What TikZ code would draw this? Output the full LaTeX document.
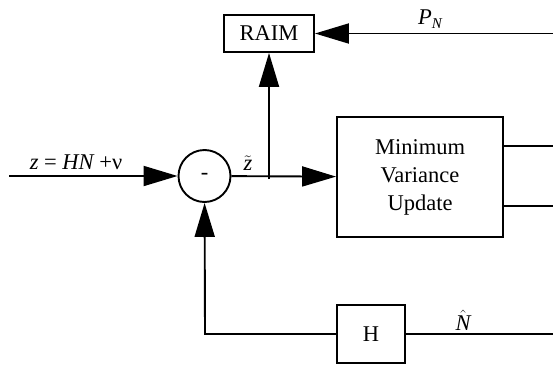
\documentclass[tikz,border=0pt]{standalone}
\usepackage{fontspec}
\setmainfont{Liberation Serif}
\usetikzlibrary{arrows.meta}
\begin{document}
\begin{tikzpicture}[x=1pt,y=-1pt,
  every node/.style={font=\fontsize{22.5}{28}\selectfont},
  blk/.style={draw,line width=1.9pt,rectangle,inner sep=0pt,align=center},
  sumnode/.style={draw,line width=1.9pt,circle,inner sep=0pt,minimum size=52pt},
  lbl/.style={inner sep=0pt},
  conn/.style={line width=1.9pt},
  arr/.style={conn,-{Triangle[length=34pt,width=20pt]}}]
\useasboundingbox (0,0) rectangle (553,364);
\node[blk,minimum width=90pt,minimum height=37pt] (raim) at (269,33.5) {RAIM};
\node[sumnode] (sum) at (204.5,176) {-};
\node[blk,minimum width=166pt,minimum height=120pt] (mvu) at (420,177) {Minimum\\Variance\\Update};
\node[blk,minimum width=68pt,minimum height=58pt] (hb) at (371,334) {H};
\coordinate (in0) at (9,176);
\coordinate (br) at (269,176);
\coordinate (brs) at (269,179);
\coordinate (pn) at (553,33.5);
\coordinate (o1) at (553,146);
\coordinate (o2) at (553,206);
\coordinate (hend) at (553,334);
\coordinate (fb) at (205,334);
\draw[arr] (in0) -- (sum);
\draw[arr] (sum) -- (mvu);
\draw[arr] (brs) -- (raim);
\draw[arr] (pn) -- (raim);
\draw[conn] (mvu.east |- o1) -- (o1);
\draw[conn] (mvu.east |- o2) -- (o2);
\draw[conn] (hend) -- (hb);
\draw[arr] (hb) -- (fb) -- (sum);
\node[lbl] (zin) at (76,162) {\itshape z\upshape\ = \itshape HN \upshape+ν};
\node[lbl] (zt) at (248,163) {$\tilde{\hbox{\itshape z}}$};
\node[lbl] (pnl) at (430,19) {\itshape P\raisebox{-0.35ex}{\fontsize{15}{15}\selectfont N}};
\node[lbl] (nh) at (463,320) {$\hat{\hbox{\itshape N}}$};
\end{tikzpicture}
\end{document}
